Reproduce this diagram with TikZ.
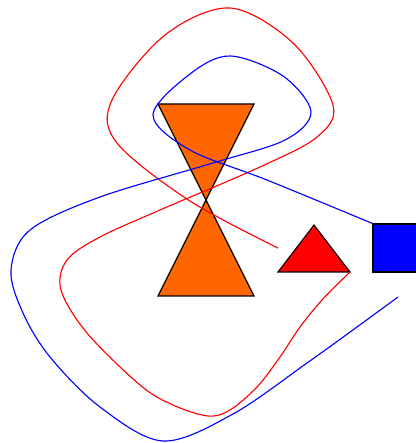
\documentclass[tikz,border=0pt]{standalone}
\usetikzlibrary{positioning, calc}

\definecolor{hgorange}{RGB}{255,102,0}

\begin{document}
\begin{tikzpicture}[
    shapebox/.style={draw=black, thick, line join=miter},
    hgshape/.style={shapebox, fill=hgorange},
    redshape/.style={shapebox, fill=red},
    sqbox/.style={shapebox, fill=blue, rectangle, minimum size=1.2cm, inner sep=0pt},
    redwire/.style={draw=red, thick},
    bluewire/.style={draw=blue, thick},
]
\useasboundingbox (0,0) rectangle (10.4,11.075);

% ================================================================
%  SHAPES
% ================================================================
% hourglass
\coordinate (waist) at (5.15,6.075);
\draw[hgshape] (waist) -- (3.95,8.475) -- (6.35,8.475) -- cycle;
\draw[hgshape] (waist) -- (3.95,3.675) -- (6.35,3.675) -- cycle;

% red triangle
\coordinate (rtri-a) at (7.85,5.45);
\coordinate (rtri-l) at (6.95,4.275);
\coordinate (rtri-r) at (8.75,4.275);
\draw[redshape] (rtri-a) -- (rtri-l) -- (rtri-r) -- cycle;

% blue square
\node[sqbox] (sq) at (9.925,4.875) {};

% ================================================================
%  WIRES
% ================================================================
\coordinate (rstart) at (6.95,4.875);
\coordinate (bend) at (9.95,3.65);

% --- red loop ---
\draw[redwire] plot[smooth, tension=0.55] coordinates {
    (rstart) (4.75,6.05) (2.925,7.5) (2.8,8.575) (4.125,10.2)
    (5.75,10.875) (7.325,10.0) (8.325,8.45) (7.925,7.65) (6.5,6.9)
    (4.0,5.825) (2.5,5.15) (1.675,4.575) (1.525,3.825) (2.175,2.75)
    (3.5,1.45) (4.325,0.95) (5.2,0.675) (5.75,0.825) (6.425,1.4)
    (7.0,2.15) (7.5,2.9) (8.05,3.575) (rtri-r)};

% --- blue loop ---
\draw[bluewire] plot[smooth, tension=0.55] coordinates {
    (sq.north west) (6.675,6.575) (4.75,7.325) (3.825,8.2) (4.75,9.225)
    (5.75,9.675) (7.075,9.175) (7.775,8.275) (7.125,7.575) (5.325,7.0)
    (2.5,6.15) (0.75,5.325) (0.275,4.325) (0.575,3.25) (1.25,2.15)
    (2.5,0.9) (4.075,0.05) (5.825,0.725) (7.675,2.0) (8.925,2.9) (bend)};

\end{tikzpicture}
\end{document}
